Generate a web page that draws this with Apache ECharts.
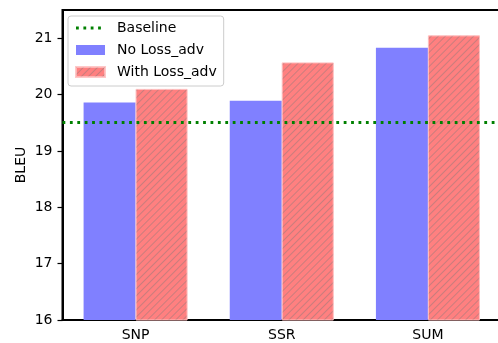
<!DOCTYPE html>
<html>
<head>
<meta charset="utf-8">
<script src="https://cdn.jsdelivr.net/npm/echarts@6/dist/echarts.min.js"></script>
<style>
  html, body { margin: 0; padding: 0; background: #fff; }
  #chart { width: 498px; height: 343px; }
</style>
</head>
<body>
<div id="chart"></div>
<script>
// data
var categories = ['SNP', 'SSR', 'SUM'];
var noLossAdv = [19.86, 19.89, 20.83];
var withLossAdv = [20.10, 20.57, 21.05];
var baseline = 19.5;
var yTicks = [16, 17, 18, 19, 20, 21];

var font = 'DejaVu Sans';
var green = '#008000';

var chart = echarts.init(document.getElementById('chart'), null, { renderer: 'canvas' });

var option = {
  animation: false,
  textStyle: { fontFamily: font },
  grid: {
    left: 62.5,
    top: 10,
    right: -3,
    bottom: 23,
    outerBoundsMode: 'none',
    containLabel: false,
    show: true,
    borderColor: '#000',
    borderWidth: 2,
    backgroundColor: 'transparent'
  },
  legend: {
    orient: 'vertical',
    left: 68,
    top: 16,
    padding: [5, 7, 7, 7],
    itemGap: 8,
    itemWidth: 29,
    itemHeight: 10,
    backgroundColor: 'rgba(255,255,255,0.8)',
    borderColor: '#cccccc',
    borderWidth: 1,
    borderRadius: 3,
    textStyle: { fontFamily: font, fontSize: 14, color: '#000', padding: [0, 0, 0, 7] },
    data: [
      {
        name: 'Baseline',
        // four green dots, like the dotted line
        icon: 'path://M0,0L0,0M0,3.6h2.8v2.8h-2.8zM7.4,3.6h2.8v2.8h-2.8zM14.7,3.6h2.8v2.8h-2.8zM22.1,3.6h2.8v2.8h-2.8zM29,10L29,10',
        itemStyle: { color: green }
      },
      { name: 'No Loss_adv', icon: 'rect' },
      { name: 'With Loss_adv', icon: 'rect' }
    ]
  },
  xAxis: {
    type: 'category',
    data: categories,
    axisLine: { lineStyle: { color: '#000', width: 2 } },
    axisTick: { alignWithLabel: true, length: 5, lineStyle: { color: '#000', width: 1.2 } },
    axisLabel: { fontFamily: font, fontSize: 14, color: '#000', margin: 8 }
  },
  yAxis: {
    type: 'value',
    min: 16,
    max: 21.5,
    interval: 1,
    name: 'BLEU',
    nameLocation: 'middle',
    nameGap: 34,
    nameMoveOverlap: false,
    nameTextStyle: { fontFamily: font, fontSize: 14, color: '#000' },
    splitLine: { show: false },
    axisLine: { show: true, lineStyle: { color: '#000', width: 2 } },
    axisTick: { show: true, length: 5, customValues: yTicks, lineStyle: { color: '#000', width: 1.2 } },
    axisLabel: { fontFamily: font, fontSize: 14, color: '#000', margin: 10, customValues: yTicks }
  },
  series: [
    {
      name: 'No Loss_adv',
      type: 'bar',
      data: noLossAdv,
      barWidth: 52,
      barGap: 0,
      itemStyle: { color: '#8080ff' }
    },
    {
      name: 'With Loss_adv',
      type: 'bar',
      data: withLossAdv,
      barWidth: 52,
      barGap: 0,
      itemStyle: {
        color: '#ff8080',
        borderColor: 'rgba(255,190,190,0.6)',
        borderWidth: 1,
        decal: {
          symbol: 'rect',
          symbolSize: 1,
          color: 'rgba(120,120,120,0.4)',
          dashArrayX: [1, 0],
          dashArrayY: [1, 3.5],
          rotation: -Math.PI / 4
        }
      }
    },
    {
      name: 'Baseline',
      type: 'line',
      data: [],
      symbol: 'none',
      itemStyle: { color: green },
      lineStyle: { color: green, width: 2.8, type: [2.8, 4.6] },
      markLine: {
        silent: true,
        symbol: ['none', 'none'],
        label: { show: false },
        lineStyle: { color: green, width: 2.8, type: [2.8, 4.6] },
        data: [{ yAxis: baseline }]
      }
    }
  ]
};

chart.setOption(option);
</script>
</body>
</html>
